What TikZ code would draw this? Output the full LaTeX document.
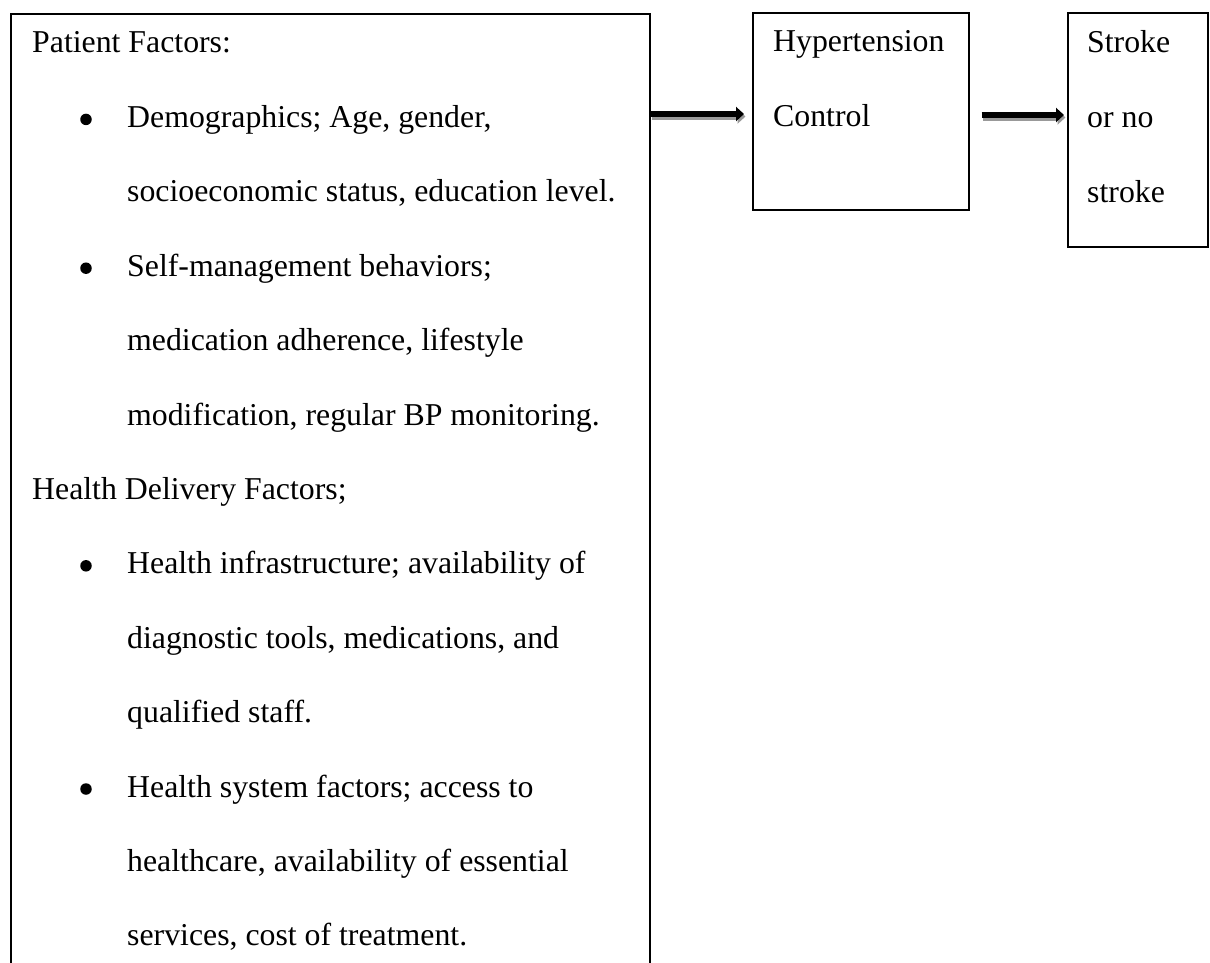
\documentclass[tikz,border=0pt]{standalone}
\usepackage{fontspec}
\setmainfont{Liberation Serif}
\usetikzlibrary{arrows.meta}
\begin{document}
\begin{tikzpicture}[x=1pt,y=-1pt,
  boxstyle/.style={draw=black, line width=1.6pt, rectangle, inner sep=0pt, anchor=north west},
  txt/.style={anchor=base west, inner sep=0pt, font=\fontsize{31.8}{38}\selectfont},
  dot/.style={circle, fill=black, inner sep=0pt, minimum size=11.5pt},
  arr/.style={line width=6.5pt, -{Triangle[length=8pt,width=14pt]}},
  shadowarr/.style={arr, draw=black!40}]
\useasboundingbox (0,0) rectangle (1210,963);
% boxes
\node[boxstyle, minimum width=639pt, minimum height=990pt] (factors) at (10,13) {};
\node[boxstyle, minimum width=216pt, minimum height=197pt] (htn) at (752,12) {};
\node[boxstyle, minimum width=140pt, minimum height=234pt] (stroke) at (1067,12) {};
% factor text
\node[txt] (t0) at (32,53) {Patient Factors:};
\node[dot] (b1) at (86,119.4) {};
\node[txt] (t1) at (127,127.4) {Demographics; Age, gender,};
\node[txt] (t2) at (127,201.8) {socioeconomic status, education level.};
\node[dot] (b3) at (86,268.2) {};
\node[txt] (t3) at (127,276.2) {Self-management behaviors;};
\node[txt] (t4) at (127,350.6) {medication adherence, lifestyle};
\node[txt] (t5) at (127,425) {modification, regular BP monitoring.};
\node[txt] (t6) at (32,499.4) {Health Delivery Factors;};
\node[dot] (b7) at (86,565.8) {};
\node[txt] (t7) at (127,573.8) {Health infrastructure; availability of};
\node[txt] (t8) at (127,648.2) {diagnostic tools, medications, and};
\node[txt] (t9) at (127,722.6) {qualified staff.};
\node[dot] (b10) at (86,789) {};
\node[txt] (t10) at (127,797) {Health system factors; access to};
\node[txt] (t11) at (127,871.4) {healthcare, availability of essential};
\node[txt] (t12) at (127,945.8) {services, cost of treatment.};
% hypertension text
\node[txt] (h1) at (773,52) {Hypertension};
\node[txt] (h2) at (773,126.5) {Control};
% stroke text
\node[txt] (s1) at (1087,53) {Stroke};
\node[txt] (s2) at (1087,127.5) {or no};
\node[txt] (s3) at (1087,202) {stroke};
% arrows
\coordinate (a1s) at (factors.east |- 0,114);
\coordinate (a1e) at ([xshift=-8pt]htn.west |- 0,114);
\coordinate (a2s) at ([xshift=12pt]htn.east |- 0,115);
\coordinate (a2e) at ([xshift=-3pt]stroke.west |- 0,115);
\draw[shadowarr] ([shift={(1.5,2.5)}]a1s) -- ([shift={(1.5,2.5)}]a1e);
\draw[arr] (a1s) -- (a1e);
\draw[shadowarr] ([shift={(1.5,2.5)}]a2s) -- ([shift={(1.5,2.5)}]a2e);
\draw[arr] (a2s) -- (a2e);
\end{tikzpicture}
\end{document}
